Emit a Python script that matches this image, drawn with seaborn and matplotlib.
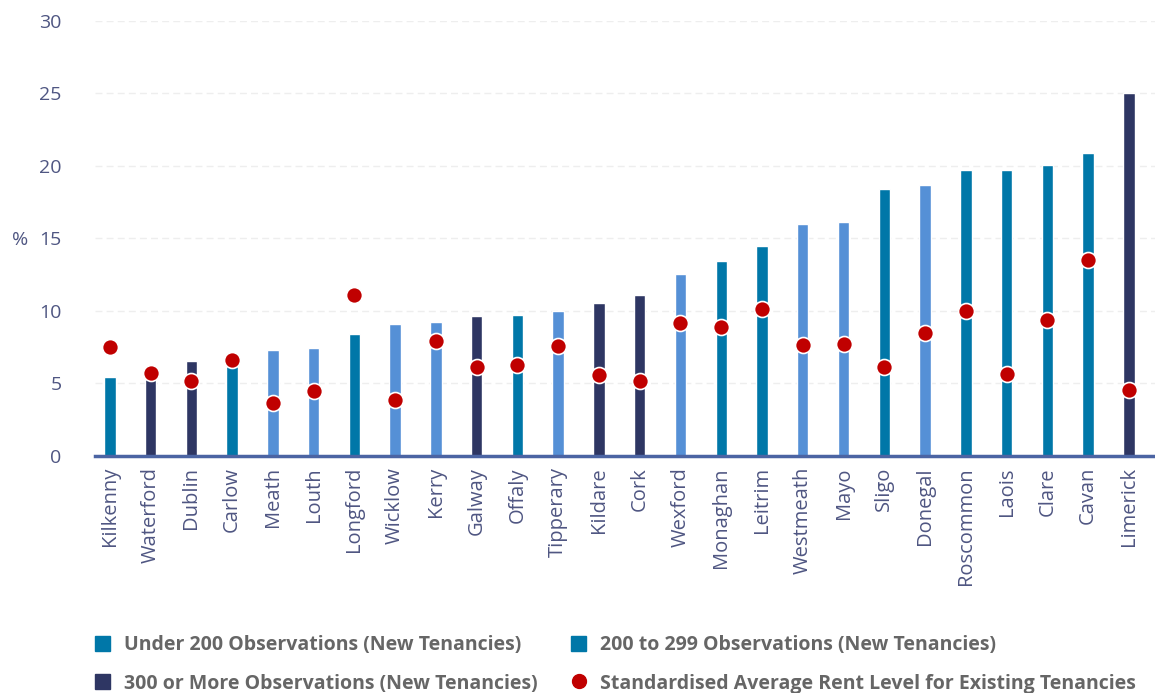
import pandas as pd
import numpy as np

import matplotlib.pyplot as plt
from matplotlib.lines import Line2D
from matplotlib.patches import Patch
import seaborn as sns


counties = ['Kilkenny', 'Waterford', 'Dublin', 'Carlow', 'Meath', 'Louth', 'Longford',
            'Wicklow', 'Kerry', 'Galway', 'Offaly', 'Tipperary', 'Kildare', 'Cork',
            'Wexford', 'Monaghan', 'Leitrim', 'Westmeath', 'Mayo', 'Sligo', 'Donegal',
            'Roscommon', 'Laois', 'Clare', 'Cavan', 'Limerick']
new_tenancies = [5.45, 5.5, 6.55, 7.1, 7.3, 7.45, 8.4,
                 9.1, 9.25, 9.65, 9.7, 10.0, 10.55, 11.1,
                 12.55, 13.45, 14.5, 16.0, 16.1, 18.4, 18.7,
                 19.7, 19.7, 20.05, 20.9, 25.0]
existing_tenancies = [7.5, 5.7, 5.15, 6.6, 3.65, 4.5, 11.1,
                      3.85, 7.9, 6.15, 6.3, 7.6, 5.6, 5.2,
                      9.2, 8.9, 10.1, 7.65, 7.7, 6.15, 8.5,
                      10.0, 5.65, 9.4, 13.5, 4.55]
# bar colour group as drawn in the chart
groups = ['teal', 'navy', 'navy', 'teal', 'light', 'light', 'teal',
          'light', 'light', 'navy', 'teal', 'light', 'navy', 'navy',
          'light', 'teal', 'teal', 'light', 'light', 'teal', 'light',
          'teal', 'teal', 'teal', 'teal', 'navy']

legend_labels = ['Under 200 Observations (New Tenancies)',
                 '300 or More Observations (New Tenancies)',
                 '200 to 299 Observations (New Tenancies)',
                 'Standardised Average Rent Level for Existing Tenancies']

teal = '#0077a8'
light = '#5590d6'
navy = '#2e3663'
red = '#c00000'
tick_color = '#4f5682'

df = pd.DataFrame({'county': counties, 'new': new_tenancies,
                   'existing': existing_tenancies, 'group': groups})

sns.set_style('white')
plt.rcParams['font.family'] = ['Open Sans', 'DejaVu Sans']

fig = plt.figure(figsize=(11.55, 6.93), dpi=100)
ax = fig.add_axes([0.082, 0.342, 0.918, 0.628])

sns.barplot(data=df, x='county', y='new', hue='group',
            palette={'teal': teal, 'light': light, 'navy': navy},
            dodge=False, width=0.28, legend=False, ax=ax, saturation=1)
sns.stripplot(data=df, x='county', y='existing', jitter=False, color=red,
              size=11.5, edgecolor='white', linewidth=1.2, ax=ax, zorder=5)

ax.set_ylim(0, 30)
ax.set_xlim(-0.37, 25.64)
ax.set_yticks(range(0, 31, 5))
ax.yaxis.grid(True, linestyle=(0, (5, 3)), color='#eeeeee', linewidth=1)
ax.set_axisbelow(True)
for s in ['top', 'right', 'left']:
    ax.spines[s].set_visible(False)
ax.spines['bottom'].set_color('#4b64a3')
ax.spines['bottom'].set_linewidth(2.5)

ax.tick_params(axis='y', length=0, pad=24, labelsize=14, labelcolor=tick_color)
ax.tick_params(axis='x', length=0, pad=8, labelsize=14.5, labelcolor=tick_color,
               labelrotation=90)
ax.set_xlabel('')
ax.set_ylabel('%', rotation=0, fontsize=14, color=tick_color)
ax.yaxis.set_label_coords(-0.07, 0.475)

handles = [Patch(color=teal), Patch(color=navy), Patch(color=teal),
           Line2D([], [], marker='o', linestyle='', color=red, markersize=10)]
fig.legend(handles, legend_labels, ncol=2, loc='lower left',
           bbox_to_anchor=(0.067, -0.026), frameon=False, handlelength=0.8,
           handleheight=0.8, handletextpad=0.7, columnspacing=1.7, labelspacing=0.95,
           prop={'size': 14, 'weight': 'bold'}, labelcolor='#666666')

fig.savefig('out.png', dpi=100)
